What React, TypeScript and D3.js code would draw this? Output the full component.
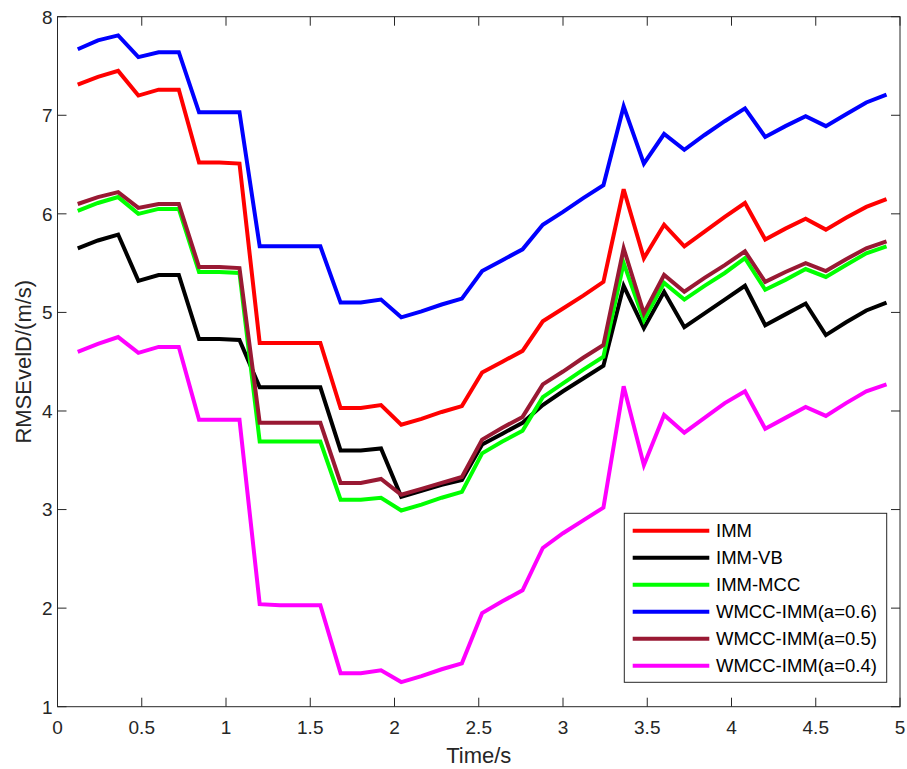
import React from "react";
import * as d3 from "d3";

const times: number[] = Array.from({ length: 41 }, (_, i) => +((i + 1) * 0.12).toFixed(2));

const imm: number[] = [7.31,7.39,7.45,7.20,7.26,7.26,6.52,6.52,6.51,4.69,4.69,4.69,4.69,4.03,4.03,4.06,3.86,3.92,3.99,4.05,4.39,4.50,4.61,4.91,5.04,5.17,5.31,6.25,5.55,5.89,5.67,5.82,5.97,6.11,5.74,5.85,5.95,5.84,5.96,6.07,6.15];
const immVB: number[] = [5.65,5.73,5.79,5.32,5.38,5.38,4.73,4.73,4.72,4.24,4.24,4.24,4.24,3.60,3.60,3.62,3.13,3.19,3.25,3.30,3.66,3.77,3.88,4.06,4.20,4.33,4.46,5.27,4.84,5.21,4.85,4.99,5.13,5.27,4.87,4.98,5.09,4.77,4.90,5.02,5.10];
const immMCC: number[] = [6.03,6.11,6.17,6.00,6.05,6.05,5.41,5.41,5.40,3.69,3.69,3.69,3.69,3.10,3.10,3.12,2.99,3.05,3.12,3.18,3.57,3.69,3.80,4.14,4.28,4.42,4.55,5.50,4.92,5.30,5.13,5.27,5.40,5.55,5.23,5.33,5.44,5.36,5.48,5.60,5.67];
const wmcc06: number[] = [7.67,7.76,7.81,7.59,7.64,7.64,7.03,7.03,7.03,5.67,5.67,5.67,5.67,5.10,5.10,5.13,4.95,5.01,5.08,5.14,5.42,5.53,5.64,5.89,6.02,6.16,6.29,7.09,6.51,6.81,6.65,6.80,6.94,7.07,6.78,6.89,6.99,6.89,7.01,7.13,7.21];
const wmcc05: number[] = [6.10,6.17,6.22,6.06,6.10,6.10,5.46,5.46,5.45,3.88,3.88,3.88,3.88,3.27,3.27,3.31,3.15,3.21,3.27,3.33,3.71,3.83,3.94,4.27,4.40,4.54,4.67,5.65,4.99,5.38,5.21,5.35,5.48,5.62,5.31,5.41,5.50,5.42,5.54,5.65,5.72];
const wmcc04: number[] = [4.60,4.68,4.75,4.59,4.65,4.65,3.91,3.91,3.91,2.04,2.03,2.03,2.03,1.34,1.34,1.37,1.25,1.31,1.38,1.44,1.95,2.07,2.18,2.61,2.76,2.89,3.02,4.25,3.45,3.96,3.78,3.93,4.08,4.20,3.82,3.93,4.04,3.95,4.08,4.20,4.27];

const seriesNames: string[] = ["IMM", "IMM-VB", "IMM-MCC", "WMCC-IMM(a=0.6)", "WMCC-IMM(a=0.5)", "WMCC-IMM(a=0.4)"];
const seriesValues: number[][] = [imm, immVB, immMCC, wmcc06, wmcc05, wmcc04];
const seriesColors: string[] = ["#ff0000", "#000000", "#00ff00", "#0000ff", "#991933", "#ff00ff"];

const xTicks: number[] = [0, 0.5, 1, 1.5, 2, 2.5, 3, 3.5, 4, 4.5, 5];
const yTicks: number[] = [1, 2, 3, 4, 5, 6, 7, 8];

const W = 907, H = 769;
const L = 57.5, R = 900, T = 16.7, B = 706.7;
const axisColor = "#262626";
const font = "'Liberation Sans', Arial, sans-serif";

export default function App() {
  const x = d3.scaleLinear().domain([0, 5]).range([L, R]);
  const y = d3.scaleLinear().domain([1, 8]).range([B, T]);
  const line = d3.line<[number, number]>().x(d => x(d[0])).y(d => y(d[1]));
  const tickLen = 9;

  return (
    <svg width={W} height={H} style={{ position: "absolute", left: 0, top: 0, background: "#fff" }} fontFamily={font}>
      <rect x={0} y={0} width={W} height={H} fill="#fff" />
      {/* lines */}
      {seriesValues.map((vals, i) => (
        <path key={i} d={line(vals.map((v, j) => [times[j], v] as [number, number])) || ""}
          fill="none" stroke={seriesColors[i]} strokeWidth={4} strokeLinejoin="miter" strokeLinecap="butt" />
      ))}
      {/* box */}
      <rect x={L} y={T} width={R - L} height={B - T} fill="none" stroke={axisColor} strokeWidth={1} />
      {/* x ticks */}
      {xTicks.map(t => (
        <g key={"x" + t}>
          <line x1={x(t)} x2={x(t)} y1={B} y2={B - tickLen} stroke={axisColor} strokeWidth={1} />
          <line x1={x(t)} x2={x(t)} y1={T} y2={T + tickLen} stroke={axisColor} strokeWidth={1} />
          <text x={x(t)} y={B + 27} textAnchor="middle" fontSize={19} fill={axisColor}>{String(t)}</text>
        </g>
      ))}
      {/* y ticks */}
      {yTicks.map(t => (
        <g key={"y" + t}>
          <line x1={L} x2={L + tickLen} y1={y(t)} y2={y(t)} stroke={axisColor} strokeWidth={1} />
          <line x1={R} x2={R - tickLen} y1={y(t)} y2={y(t)} stroke={axisColor} strokeWidth={1} />
          <text x={L - 5} y={y(t)} dy="0.36em" textAnchor="end" fontSize={19} fill={axisColor}>{String(t)}</text>
        </g>
      ))}
      {/* axis labels */}
      <text x={(L + R) / 2} y={763} textAnchor="middle" fontSize={22} fill={axisColor}>Time/s</text>
      <text transform={`translate(31,${(T + B) / 2}) rotate(-90)`} textAnchor="middle" fontSize={22} fill={axisColor}>RMSEvelD/(m/s)</text>
      {/* legend */}
      <rect x={624.3} y={513.3} width={262.4} height={169} fill="#fff" stroke={axisColor} strokeWidth={1} />
      {seriesNames.map((n, i) => {
        const cy = 530.7 + i * 27;
        return (
          <g key={"l" + i}>
            <line x1={632.7} x2={709.3} y1={cy} y2={cy} stroke={seriesColors[i]} strokeWidth={4} />
            <text x={716} y={cy} dy="0.36em" fontSize={18.5} fill="#000">{n}</text>
          </g>
        );
      })}
    </svg>
  );
}
